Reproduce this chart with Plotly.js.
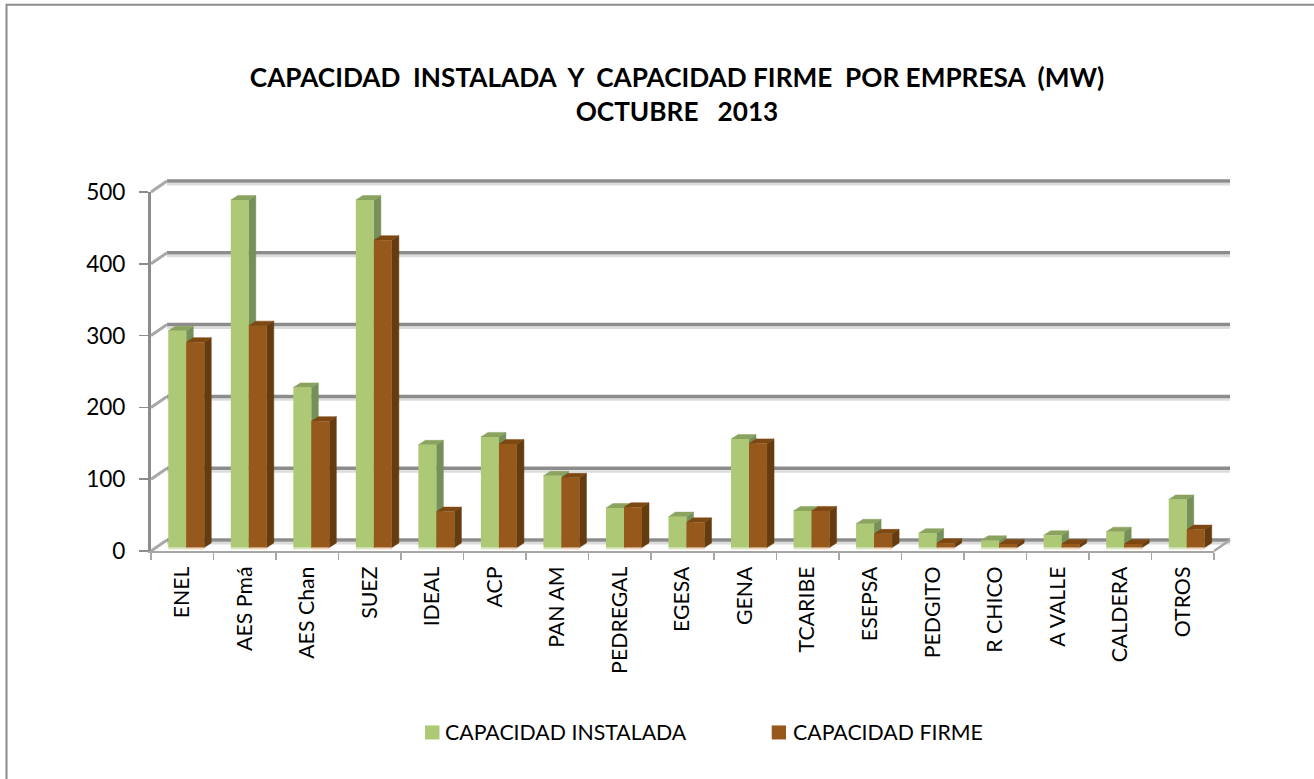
<!DOCTYPE html>
<html><head><meta charset="utf-8">
<script src="https://cdn.plot.ly/plotly-3.0.1.min.js"></script>
<style>html,body{margin:0;padding:0;background:#fff}</style>
</head><body><div id="chart" style="width:1314px;height:779px"></div>
<script>
const categories = ['ENEL','AES Pmá','AES Chan','SUEZ','IDEAL','ACP','PAN AM','PEDREGAL','EGESA','GENA','TCARIBE','ESEPSA','PEDGITO','R CHICO','A VALLE','CALDERA','OTROS'];
const instalada = [302,484,223,484,143,154,100,55,43,151,51,33,20,10,17,22,67];
const firme = [286,309,176,428,50,144,97,56,35,145,51,19,6,5,5,5,25];
const yTicks = [0,100,200,300,400,500];
const nameA = 'CAPACIDAD INSTALADA', nameB = 'CAPACIDAD FIRME';

const W = 1314, H = 779, L = 151, R = 1214, T = 191.7, B = 550.6;
const idx = categories.map((c,i)=>i);
const catW = (R-L)/17, pxPerUnit = (B-T)/500;
const barW = 0.288, depthX = 7/catW, depthY = 4.5/pxPerUnit;
const x0 = -0.5, x1 = 16.5;
const shiftX = 4/catW, shiftY = 3.5/pxPerUnit;
const wallPx = 16, wallPy = 11;

function face(vals,left,kind,col){
  const xs=[], ys=[];
  vals.forEach((v,i)=>{
    const a=i+left+shiftX, b=a+barW, u=v+shiftY, z=shiftY;
    if(kind==='top'){ xs.push(a,b,b+depthX,a+depthX,a,null); ys.push(u,u,u+depthY,u+depthY,u,null); }
    else { xs.push(b,b+depthX,b+depthX,b,b,null); ys.push(z,z+depthY,u+depthY,u,z,null); }
  });
  return {type:'scatter',mode:'lines',x:xs,y:ys,fill:'toself',fillcolor:col,line:{color:col,width:0.5},
    showlegend:false,hoverinfo:'skip'};
}
function baseStrip(left,col){
  const xs=[], ys=[];
  idx.forEach(i=>{ xs.push(i+left+shiftX,i+left+shiftX+barW,null); ys.push(shiftY-1/pxPerUnit,shiftY-1/pxPerUnit,null); });
  return {type:'scatter',mode:'lines',x:xs,y:ys,line:{color:col,width:2},showlegend:false,hoverinfo:'skip'};
}
const traces=[
  baseStrip(-barW,'#dce8c4'),
  baseStrip(0,'#f0d6bd'),
  face(instalada,-barW,'side','#76905a'),
  face(instalada,-barW,'top','#8aa35f'),
  face(firme,0,'side','#653c10'),
  face(firme,0,'top','#7d4812'),
  {type:'bar',name:nameA,x:idx,y:instalada,marker:{color:'#adc975'},xaxis:'x2',yaxis:'y2',showlegend:false},
  {type:'bar',name:nameB,x:idx,y:firme,marker:{color:'#97581b'},xaxis:'x2',yaxis:'y2',showlegend:false}
];
// wall + floor lines, placed relative to the axis domain so they may leave the front plot area
const dom=(xa,ya,xb,yb,col,w)=>({type:'line',xref:'x domain',yref:'y domain',layer:'below',
  x0:xa/(R-L),y0:ya/(B-T),x1:xb/(R-L),y1:yb/(B-T),line:{color:col,width:w}});
const shapes=[];
yTicks.forEach(t=>{
  const py=t*pxPerUnit;
  shapes.push(dom(wallPx,py+wallPy-3.2,R-L+wallPx,py+wallPy-3.2,'#dcdcdc',2.5));
  shapes.push(dom(wallPx,py+wallPy,R-L+wallPx,py+wallPy,'#8c8c8c',3.5));
  shapes.push(dom(0,py,wallPx,py+wallPy,'#a8a8a8',3));
});
shapes.push(dom(R-L,0,R-L+wallPx,wallPy,'#a8a8a8',2.5));
const paperRect=(a,b,c,d,fill)=>({type:'rect',xref:'paper',yref:'paper',layer:'below',
  x0:(a-L)/(R-L),x1:(c-L)/(R-L),y0:(B-d)/(B-T),y1:(B-b)/(B-T),fillcolor:fill,line:{width:0}});
shapes.push(paperRect(425,725,439.5,739,'#adc975'));
shapes.push(paperRect(771.7,725,786,739,'#97581b'));
// outer frame: only the top and left edges are visible in the source
shapes.push({type:'path',xref:'paper',yref:'paper',layer:'below',
  path:`M ${(6.5-L)/(R-L)} ${(B-779)/(B-T)} L ${(6.5-L)/(R-L)} ${(B-4.5)/(B-T)} L ${(W-L)/(R-L)} ${(B-4.5)/(B-T)}`,
  line:{color:'#8c8c8c',width:2}});
const legendText=(t,x)=>({text:t,xref:'paper',yref:'paper',x:(x-L)/(R-L),y:(B-732)/(B-T),xanchor:'left',yanchor:'middle',
  showarrow:false,xshift:-2,font:{family:'Lato',size:21.3,color:'#000'}});

const hidden={visible:false,fixedrange:true};
const layout={
  width:W,height:H,autosize:false,
  margin:{l:L,r:W-R,t:T,b:H-B,pad:0},
  paper_bgcolor:'#fff',plot_bgcolor:'rgba(0,0,0,0)',
  font:{family:'Lato, Carlito, sans-serif',color:'#000',size:21},
  title:{text:'<b>CAPACIDAD  INSTALADA  Y  CAPACIDAD FIRME  POR EMPRESA  (MW)<br>OCTUBRE   2013</b>',
    font:{family:'Lato',size:26.2,color:'#000'},x:677/W,xanchor:'center',xref:'container',y:1-87/H,yanchor:'top',yref:'container'},
  barmode:'group',bargap:1-2*barW,bargroupgap:0,
  showlegend:false,
  xaxis:{type:'linear',range:[x0,x1],tickmode:'array',tickvals:idx,ticktext:categories,tickangle:-90,ticks:'',
    showgrid:false,zeroline:false,showline:true,linecolor:'#a6a6a6',linewidth:2,
    tickfont:{size:21.3,family:'Lato'},ticklabelstandoff:5,
    minor:{tickmode:'array',tickvals:[...idx,17].map(i=>i-0.5),ticks:'outside',ticklen:7,tickwidth:1.5,tickcolor:'#a6a6a6',showgrid:false}},
  yaxis:{range:[0,500],tickmode:'array',tickvals:yTicks,ticks:'outside',ticklen:9,tickwidth:1.5,tickcolor:'#8c8c8c',
    showgrid:false,zeroline:false,showline:true,linecolor:'#8c8c8c',linewidth:3,tickfont:{size:22.6,family:'Lato'},ticklabelstandoff:9},
  xaxis2:{...hidden,overlaying:'x',anchor:'y2',range:[x0-shiftX,x1-shiftX]},
  yaxis2:{...hidden,overlaying:'y',anchor:'x2',range:[-shiftY,500-shiftY]},
  shapes:shapes,
  annotations:[legendText(nameA,445),legendText(nameB,793)]
};
Plotly.newPlot('chart',traces,layout,{displayModeBar:false,staticPlot:true});
</script></body></html>
